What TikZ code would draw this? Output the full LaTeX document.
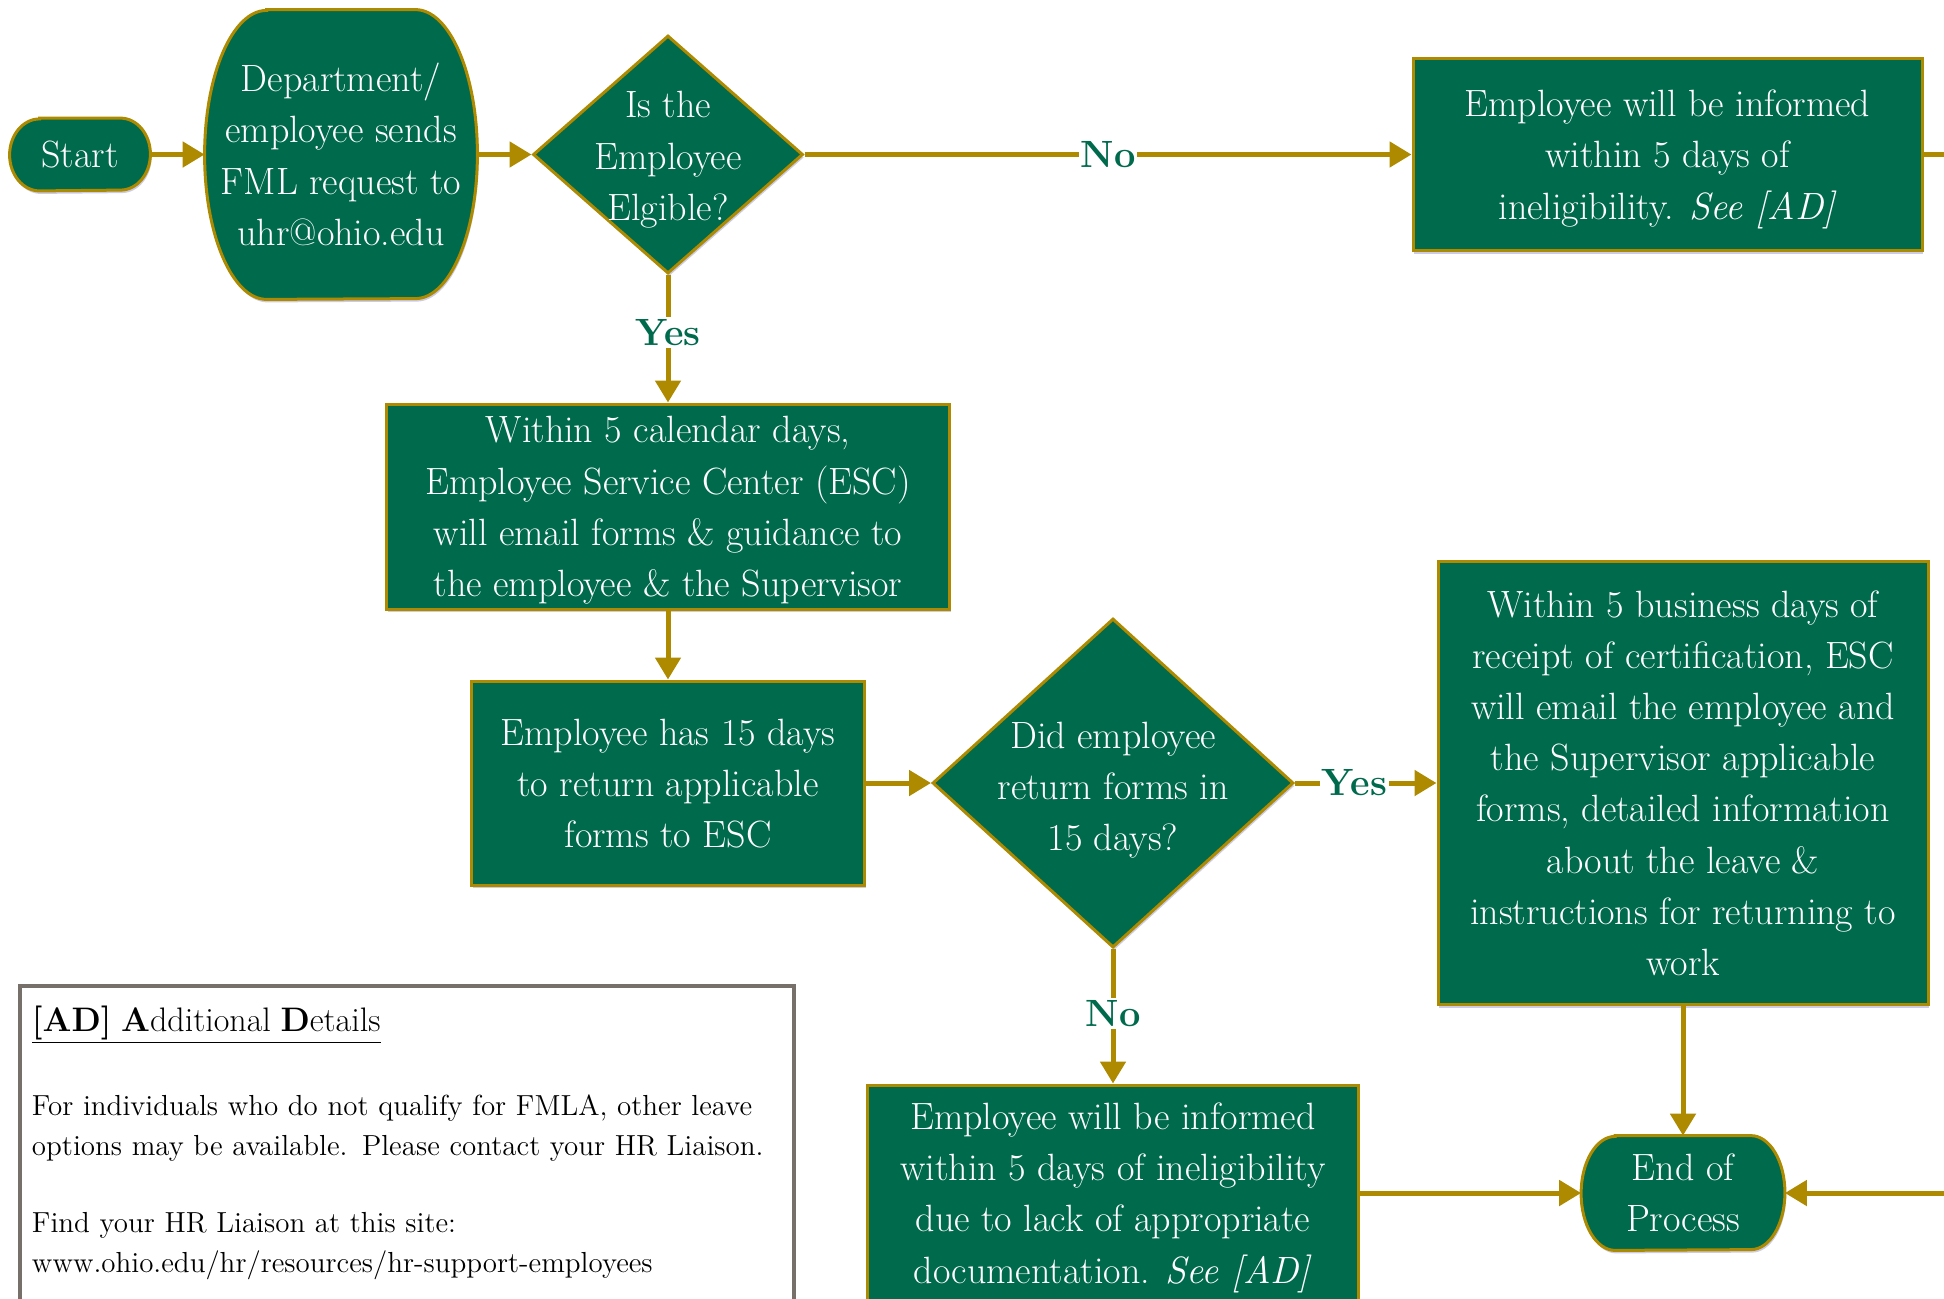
\documentclass[tikz,border=0pt]{standalone}
\usepackage{tikz}
\usetikzlibrary{shapes.geometric,arrows.meta,shadows,backgrounds}

\definecolor{ougreen}{HTML}{006A4D}
\definecolor{ougold}{HTML}{AD8A00}
\definecolor{adgray}{HTML}{77706A}

\newcommand{\termpath}[3]{%
  \path[termfill] ([xshift=#2]#1.north west) -- ([xshift=-#2]#1.north east)
    arc[start angle=90,end angle=-90,x radius=#2,y radius=#3]
    -- ([xshift=#2]#1.south west)
    arc[start angle=270,end angle=90,x radius=#2,y radius=#3] -- cycle;}

\begin{document}
\begin{tikzpicture}[
    boxfont/.style={font=\fontsize{19}{25.6}\selectfont},
    softshadow/.style={drop shadow={shadow xshift=0.6pt,shadow yshift=-1.5pt,fill=blue!35!gray,opacity=.3}},
    process/.style={rectangle,fill=ougreen,draw=ougold,line width=1.5pt,text=white,align=center,boxfont,inner sep=2pt,text depth=0pt,softshadow},
    decision/.style={diamond,fill=ougreen,draw=ougold,line width=1.5pt,inner sep=0pt,softshadow},
    qtext/.style={text=white,align=center,boxfont,inner sep=0pt,text depth=0pt},
    term/.style={rectangle,text=white,align=center,boxfont,inner sep=0pt},
    termfill/.style={fill=ougreen,draw=ougold,line width=1.5pt,softshadow},
    flow/.style={draw=ougold,line width=2.5pt,-{Triangle[length=11pt,width=12.5pt]}},
    answer/.style={fill=white,text=ougreen,font=\fontsize{19}{26}\selectfont\bfseries,inner sep=1pt},
    adbox/.style={rectangle,draw=adgray,line width=2pt,outer sep=0pt,anchor=north west,align=left,
      text width=375pt,inner xsep=6pt,inner ysep=10pt,text depth=130pt,font=\fontsize{14.5}{20}\selectfont}
  ]
  \useasboundingbox (0,0) rectangle (972pt,-649pt);
  \clip (0,0) rectangle (972pt,-649pt);
  \begin{scope}[x=0.5pt,y=-0.5pt]
   \node[term,minimum width=70pt,minimum height=36pt] (start) at (80,154.5) {Start};
   \node[term,minimum width=136pt,minimum height=144.5pt] (dept) at (341,154.5) {Department/\\employee sends\\FML request to\\uhr@ohio.edu};
   \node[decision,minimum width=135pt,minimum height=119pt] (elig) at (668,154.5) {};
   \node[qtext] (eligtext) at (668,156) {Is the\\Employee\\Elgible?};
   \node[process,minimum width=254.5pt,minimum height=96pt] (inelig) at (1667.5,154.5) {Employee will be informed\\within 5 days of\\ineligibility. \textit{See [AD]}};
   \node[process,minimum width=281.5pt,minimum height=102.5pt] (esc) at (668,506.5) {Within 5 calendar days,\\Employee Service Center (ESC)\\will email forms \& guidance to\\the employee \& the Supervisor};
   \node[process,minimum width=196.5pt,minimum height=102pt] (fifteen) at (668,783) {Employee has 15 days\\to return applicable\\forms to ESC};
   \node[decision,minimum width=180.5pt,minimum height=164.5pt] (returned) at (1113,783) {};
   \node[qtext] (returnedtext) at (1113,786) {Did employee\\return forms in\\15 days?};
   \node[process,minimum width=245pt,minimum height=221.5pt] (certify) at (1683,783) {Within 5 business days of\\receipt of certification, ESC\\will email the employee and\\the Supervisor applicable\\forms, detailed information\\about the leave \&\\instructions for returning to\\work};
   \node[process,minimum width=245.5pt,minimum height=108pt] (lackdoc) at (1113,1193) {Employee will be informed\\within 5 days of ineligibility\\due to lack of appropriate\\documentation. \textit{See [AD]}};
   \node[term,minimum width=101.5pt,minimum height=57pt] (finish) at (1683,1193) {End of\\Process};
   \node[adbox] (details) at (20,986) {{\fontsize{17}{20}\selectfont\underline{\textbf{[AD] A}dditional \textbf{D}etails}}\\[22pt]
     For individuals who do not qualify for FMLA, other leave\\
     options may be available. Please contact your HR Liaison.\\[18.5pt]
     Find your HR Liaison at this site:\\
     www.ohio.edu/hr/resources/hr-support-employees};

   \draw[flow] (start) -- (dept);
   \draw[flow] (dept) -- (elig);
   \draw[flow] (elig) -- node[answer] (no1) {No} (inelig);
   \draw[flow] (elig) -- node[answer,pos=.45] (yes1) {Yes} (esc);
   \draw[flow] (esc) -- (fifteen);
   \draw[flow] (fifteen) -- (returned);
   \draw[flow] (returned) -- node[answer,pos=.42] (yes2) {Yes} (certify);
   \draw[flow] (returned) -- node[answer,pos=.48] (no2) {No} (lackdoc);
   \draw[flow] (certify) -- (finish);
   \draw[flow] (lackdoc) -- (finish);
   \draw[flow] (inelig.east) -- ++(60,0) |- (finish.east);
  \end{scope}
  \begin{scope}[on background layer]
   \termpath{start}{15pt}{18pt}
   \termpath{dept}{31pt}{72.25pt}
   \termpath{finish}{17pt}{28.5pt}
  \end{scope}
\end{tikzpicture}
\end{document}
